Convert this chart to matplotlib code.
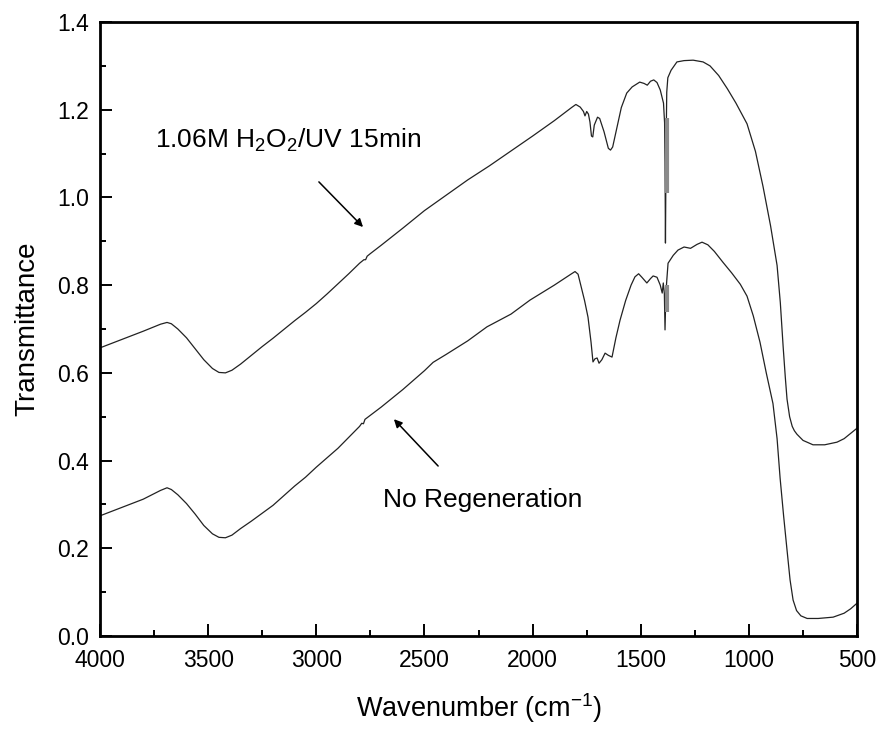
import numpy as np
import matplotlib
matplotlib.use("Agg")
import matplotlib.pyplot as plt

plt.rcParams["font.family"] = ["Liberation Sans", "DejaVu Sans"]
plt.rcParams["mathtext.fontset"] = "custom"
plt.rcParams["mathtext.rm"] = "Liberation Sans"
plt.rcParams["mathtext.it"] = "Liberation Sans:italic"

# upper spectrum: 1.06M H2O2/UV 15min
wn_top = [4000, 3900, 3800, 3720, 3690, 3670, 3640, 3600, 3560, 3520, 3480, 3450,
          3420, 3390, 3350, 3300, 3250, 3200, 3150, 3100, 3050, 3000, 2950, 2900,
          2850, 2800, 2780, 2772, 2765, 2750, 2700, 2600, 2500, 2400, 2300, 2200,
          2100, 2000, 1900, 1820, 1800, 1780, 1765, 1758, 1750, 1742, 1735, 1728,
          1722, 1715, 1700, 1690, 1670, 1650, 1640, 1630, 1610, 1590, 1565, 1540,
          1505, 1485, 1470, 1455, 1440, 1425, 1410, 1400, 1395, 1390, 1388, 1386,
          1383, 1380, 1375, 1360, 1333, 1300, 1258, 1212, 1180, 1140, 1100, 1060,
          1009, 970, 935, 900, 870, 855, 842, 832, 824, 812, 800, 790, 778, 750,
          704, 650, 593, 560, 530, 500]
tr_top = [0.657, 0.676, 0.695, 0.711, 0.715, 0.712, 0.700, 0.680, 0.655, 0.630, 0.610, 0.601,
          0.600, 0.606, 0.620, 0.640, 0.660, 0.679, 0.699, 0.719, 0.738, 0.758, 0.780, 0.803,
          0.826, 0.850, 0.858, 0.858, 0.866, 0.872, 0.891, 0.930, 0.970, 1.005, 1.040, 1.072,
          1.106, 1.140, 1.175, 1.205, 1.212, 1.206, 1.196, 1.186, 1.196, 1.190, 1.172, 1.140,
          1.138, 1.165, 1.183, 1.180, 1.150, 1.112, 1.108, 1.115, 1.160, 1.205, 1.238, 1.252,
          1.263, 1.260, 1.256, 1.265, 1.268, 1.262, 1.245, 1.225, 1.215, 1.170, 1.080, 0.896,
          1.120, 1.240, 1.273, 1.290, 1.309, 1.312, 1.313, 1.309, 1.300, 1.278, 1.248, 1.215,
          1.168, 1.105, 1.025, 0.935, 0.845, 0.760, 0.660, 0.590, 0.540, 0.500, 0.478, 0.468,
          0.460, 0.446, 0.436, 0.436, 0.442, 0.450, 0.462, 0.474]

# lower spectrum: No Regeneration
wn_bot = [4000, 3900, 3800, 3720, 3690, 3670, 3640, 3600, 3560, 3520, 3480, 3450,
          3420, 3390, 3350, 3300, 3250, 3200, 3150, 3100, 3050, 3000, 2900, 2800,
          2790, 2782, 2775, 2700, 2600, 2500, 2460, 2400, 2300, 2211, 2100, 2012,
          1900, 1820, 1804, 1790, 1772, 1760, 1744, 1730, 1721, 1712, 1702, 1693,
          1680, 1665, 1650, 1633, 1615, 1596, 1570, 1545, 1527, 1510, 1495, 1472,
          1455, 1443, 1425, 1410, 1401, 1396, 1391, 1388, 1384, 1380, 1374, 1350,
          1328, 1300, 1270, 1240, 1217, 1190, 1160, 1120, 1080, 1040, 1009, 980,
          949, 920, 889, 870, 856, 840, 824, 810, 796, 780, 760, 731, 680, 611,
          560, 530, 500]
tr_bot = [0.274, 0.293, 0.312, 0.332, 0.338, 0.334, 0.322, 0.302, 0.278, 0.252, 0.233, 0.225,
          0.224, 0.230, 0.245, 0.262, 0.280, 0.298, 0.320, 0.342, 0.362, 0.385, 0.428, 0.478,
          0.485, 0.484, 0.494, 0.522, 0.562, 0.605, 0.624, 0.642, 0.673, 0.705, 0.734, 0.766,
          0.800, 0.826, 0.831, 0.825, 0.789, 0.765, 0.727, 0.670, 0.625, 0.632, 0.634, 0.622,
          0.630, 0.645, 0.640, 0.636, 0.680, 0.720, 0.765, 0.800, 0.819, 0.826, 0.818, 0.805,
          0.815, 0.821, 0.818, 0.800, 0.782, 0.805, 0.780, 0.698, 0.780, 0.810, 0.850, 0.868,
          0.880, 0.887, 0.884, 0.893, 0.898, 0.892, 0.877, 0.852, 0.828, 0.802, 0.775, 0.730,
          0.670, 0.600, 0.530, 0.450, 0.360, 0.275, 0.196, 0.128, 0.082, 0.058, 0.046, 0.040,
          0.040, 0.043, 0.052, 0.062, 0.075]

# grey noise bands near 1380 cm-1
band_wn = [1381, 1381]
band_lo = [1.010, 0.739]
band_hi = [1.181, 0.800]

fig = plt.figure(figsize=(8.8, 7.34), dpi=100)
ax = fig.add_axes([0.1136, 0.1335, 0.974 - 0.1136, 0.970 - 0.1335])

ax.plot(wn_top, tr_top, color="#222222", lw=0.9)
ax.plot(wn_bot, tr_bot, color="#222222", lw=0.9)
ax.vlines(band_wn, band_lo, band_hi, colors="#8a8a8a", lw=3)

ax.set_xlim(4000, 500)
ax.set_ylim(0, 1.4)
ax.set_xticks(np.arange(4000, 499, -500))
ax.set_xticks(np.arange(3750, 500, -500), minor=True)
ax.set_yticks(np.arange(0, 1.41, 0.2))
ax.set_yticks(np.arange(0.1, 1.4, 0.2), minor=True)
ax.set_yticklabels(["%.1f" % v for v in np.arange(0, 1.41, 0.2)])

ax.tick_params(which="both", direction="in", width=1.4, labelsize=16.5,
               top=False, right=False)
ax.tick_params(which="major", length=8.5)
ax.tick_params(which="minor", length=4.3)
ax.tick_params(axis="x", pad=9)
ax.tick_params(axis="y", pad=8)
for sp in ax.spines.values():
    sp.set_linewidth(2)

ax.set_xlabel("Wavenumber (cm$^{\\mathrm{-1}}$)", fontsize=19.5, labelpad=14)
ax.set_ylabel("Transmittance", fontsize=20, labelpad=12)

ax.annotate("", xy=(2775, 0.928), xytext=(2997, 1.040),
            arrowprops=dict(arrowstyle="-|>", color="black", lw=1.1, mutation_scale=12))
ax.text(3131, 1.131, "1.06M H$_\\mathrm{2}$O$_\\mathrm{2}$/UV 15min", fontsize=19,
        ha="center", va="center")

ax.annotate("", xy=(2650, 0.499), xytext=(2428, 0.383),
            arrowprops=dict(arrowstyle="-|>", color="black", lw=1.1, mutation_scale=12))
ax.text(2229, 0.310, "No Regeneration", fontsize=19, ha="center", va="center")

fig.savefig("out.png", dpi=100)
